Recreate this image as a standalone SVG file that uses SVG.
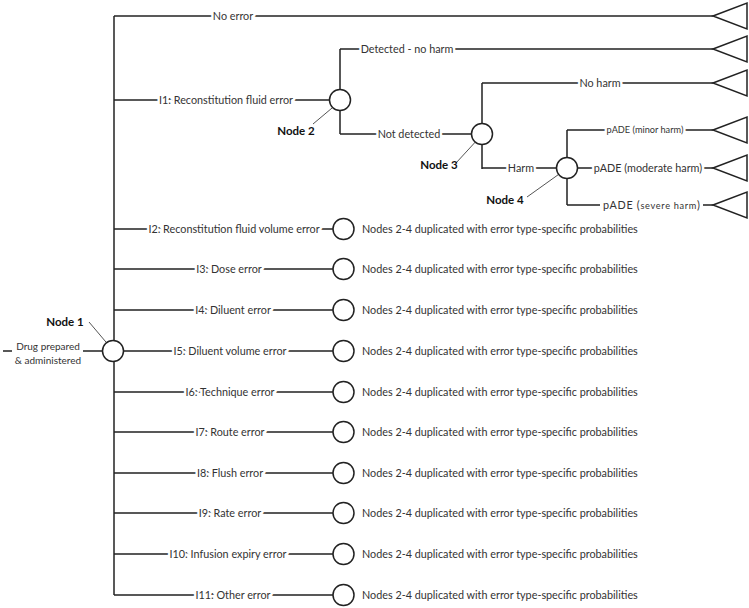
<svg xmlns="http://www.w3.org/2000/svg" width="749" height="608" viewBox="0 0 749 608">
<style>
.ln{stroke:#222;stroke-width:1.5;fill:none}
.lead{stroke:#555;stroke-width:1;fill:none}
.nd{stroke:#222;stroke-width:1.5;fill:#fff}
.tri{stroke:#222;stroke-width:1.5;fill:#fff}
text{font-family:Lato,"Open Sans","Liberation Sans",sans-serif;font-size:10.8px;fill:#333}
.lbl{text-anchor:middle;stroke:#fff;stroke-width:5;stroke-linejoin:round;paint-order:stroke}
.nl{font-weight:bold;font-size:11.5px;fill:#111}
.sm{font-size:9.2px}
.src{font-size:10px;text-anchor:middle}
</style>
<rect width="749" height="608" fill="#fff"/>
<g id="connectors">
<path class="ln" d="M114 16V595"/>
<path class="ln" d="M3 351H12M83 351H103"/>
<path class="ln" d="M114 16H713"/>
<path class="ln" d="M114 100H330"/>
<path class="ln" d="M340 49V134M340 49H713M340 134H471"/>
<path class="ln" d="M482 83V169M482 83H713M482 168H557"/>
<path class="ln" d="M567 130V205M567 130H713M578 168H713M567 205H600M703 205H713"/>
<path class="ln" d="M114 229H333M114 269H333M114 310H333M124 351H333M114 392H333M114 432H333M114 473H333M114 513H333M114 554H333M114 595H333"/>
<path class="lead" d="M89 322L111 348"/>
<path class="lead" d="M313 124L338 103"/>
<path class="lead" d="M456 163L479 138"/>
<path class="lead" d="M527 197L562 172"/>
</g>
<g id="labels">
<text class="lbl" x="233" y="19.8">No error</text>
<text class="lbl" x="226" y="103.8">I1: Reconstitution fluid error</text>
<text class="lbl" x="407" y="52.8">Detected - no harm</text>
<text class="lbl" x="409" y="137.8">Not detected</text>
<text class="lbl" x="600" y="86.8">No harm</text>
<text class="lbl" x="521" y="171.8">Harm</text>
<text class="lbl sm" x="645" y="133.3">pADE (minor harm)</text>
<text class="lbl" x="648" y="171.8">pADE (moderate harm)</text>
<text x="603" y="208.8" textLength="97" lengthAdjust="spacing">pADE (<tspan class="sm">severe harm</tspan>)</text>
<text class="lbl" x="234" y="232.8">I2: Reconstitution fluid volume error</text>
<text class="lbl" x="229" y="272.8">I3: Dose error</text>
<text class="lbl" x="233" y="313.8">I4: Diluent error</text>
<text class="lbl" x="230" y="354.8">I5: Diluent volume error</text>
<text class="lbl" x="230" y="395.8">I6: Technique error</text>
<text class="lbl" x="230" y="435.8">I7: Route error</text>
<text class="lbl" x="230" y="476.8">I8: Flush error</text>
<text class="lbl" x="230" y="516.8">I9: Rate error</text>
<text class="lbl" x="228" y="557.8">I10: Infusion expiry error</text>
<text class="lbl" x="233" y="598.8">I11: Other error</text>
</g>
<g id="node1">
<circle class="nd" cx="113" cy="351" r="10.5"/>
<text class="nl" x="65" y="326" text-anchor="middle">Node 1</text>
<text class="src" x="48" y="349.5">Drug prepared</text>
<text class="src" x="48" y="363.5">&amp; administered</text>
</g>
<g id="node2">
<circle class="nd" cx="340" cy="100" r="10.5"/>
<text class="nl" x="296" y="135" text-anchor="middle">Node 2</text>
</g>
<g id="node3">
<circle class="nd" cx="482" cy="134" r="10.5"/>
<text class="nl" x="439" y="169" text-anchor="middle">Node 3</text>
</g>
<g id="node4">
<circle class="nd" cx="567" cy="168" r="10.5"/>
<text class="nl" x="505" y="204" text-anchor="middle">Node 4</text>
</g>
<g id="outcomes">
<path class="tri" d="M713 16L747 3V29Z"/>
<path class="tri" d="M713 49L747 36V62Z"/>
<path class="tri" d="M713 83L747 70V96Z"/>
<path class="tri" d="M713 130L747 117V143Z"/>
<path class="tri" d="M713 168L747 155V181Z"/>
<path class="tri" d="M713 205L747 192V218Z"/>
</g>
<g id="dup-nodes">
<circle class="nd" cx="343.5" cy="229" r="10.5"/><text x="362" y="232.8">Nodes 2-4 duplicated with error type-specific probabilities</text>
<circle class="nd" cx="343.5" cy="269" r="10.5"/><text x="362" y="272.8">Nodes 2-4 duplicated with error type-specific probabilities</text>
<circle class="nd" cx="343.5" cy="310" r="10.5"/><text x="362" y="313.8">Nodes 2-4 duplicated with error type-specific probabilities</text>
<circle class="nd" cx="343.5" cy="351" r="10.5"/><text x="362" y="354.8">Nodes 2-4 duplicated with error type-specific probabilities</text>
<circle class="nd" cx="343.5" cy="392" r="10.5"/><text x="362" y="395.8">Nodes 2-4 duplicated with error type-specific probabilities</text>
<circle class="nd" cx="343.5" cy="432" r="10.5"/><text x="362" y="435.8">Nodes 2-4 duplicated with error type-specific probabilities</text>
<circle class="nd" cx="343.5" cy="473" r="10.5"/><text x="362" y="476.8">Nodes 2-4 duplicated with error type-specific probabilities</text>
<circle class="nd" cx="343.5" cy="513" r="10.5"/><text x="362" y="516.8">Nodes 2-4 duplicated with error type-specific probabilities</text>
<circle class="nd" cx="343.5" cy="554" r="10.5"/><text x="362" y="557.8">Nodes 2-4 duplicated with error type-specific probabilities</text>
<circle class="nd" cx="343.5" cy="595" r="10.5"/><text x="362" y="598.8">Nodes 2-4 duplicated with error type-specific probabilities</text>
</g>
</svg>
